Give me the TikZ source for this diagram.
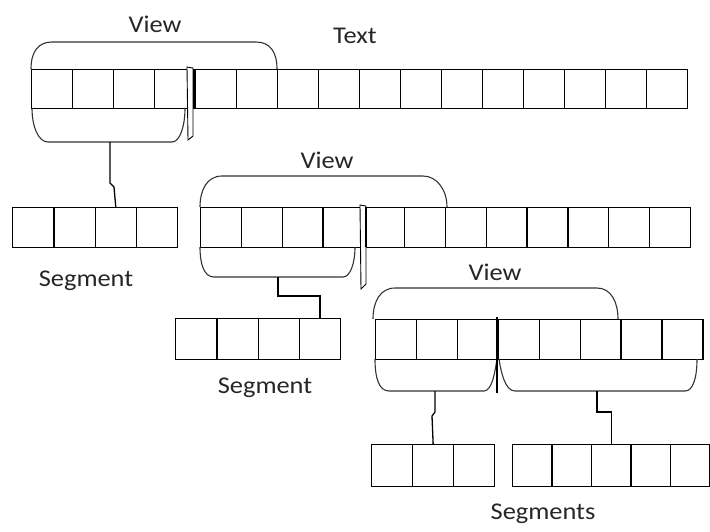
\documentclass[tikz,border=0pt]{standalone}
\usepackage{fontspec}
\setmainfont{Carlito}[FakeStretch=1.1]
\begin{document}
\begin{tikzpicture}[x=1pt,y=-1pt,
  cell/.style={draw=black,line width=1.3pt,inner sep=0pt,anchor=north west,minimum height=40pt},
  brace/.style={draw=black!80,line width=1.1pt},
  conn/.style={draw=black,line width=1.3pt},
  marker/.style={draw=black,line width=0.9pt,fill=white},
  lbl/.style={font=\fontsize{24}{28}\selectfont,text=black!85,anchor=base,inner sep=0pt}]
\useasboundingbox (0,0) rectangle (710,531);
% rows of cells
\foreach \i in {1,...,16} \node[cell,minimum width=41pt,minimum height=39pt] (t\i) at ({31+41*(\i-1)},69) {};
\foreach \i in {1,...,12} \node[cell,minimum width=40.8pt] (r\i) at ({200+40.8*(\i-1)},207) {};
\foreach \i in {1,...,8} \node[cell,minimum width=40.9pt] (q\i) at ({375+40.9*(\i-1)},319) {};
\foreach \i in {1,...,4} \node[cell,minimum width=41.25pt] (sa\i) at ({12+41.25*(\i-1)},207) {};
\foreach \i in {1,...,4} \node[cell,minimum width=41.25pt,minimum height=41pt] (sb\i) at ({175+41.25*(\i-1)},318) {};
\foreach \i in {1,...,3} \node[cell,minimum width=41pt,minimum height=42pt] (sc\i) at ({371+41*(\i-1)},444) {};
\foreach \i in {1,...,5} \node[cell,minimum width=39.4pt,minimum height=42pt] (sd\i) at ({512+39.4*(\i-1)},444) {};
% labels
\node[lbl] (v1) at (155,32) {View};
\node[lbl] (tx) at (355,43) {Text};
\node[lbl] (v2) at (327,168) {View};
\node[lbl] (g1) at (86,286) {Segment};
\node[lbl] (v3) at (495,280) {View};
\node[lbl] (g2) at (265,393) {Segment};
\node[lbl] (g3) at (543,519) {Segments};
% braces row 1
\draw[brace] (31,69) .. controls (31,52) and (38,42) .. (52,42) -- (256,42) .. controls (270,42) and (277,52) .. (277,69);
\draw[brace] (32,108) .. controls (32,126) and (38,142) .. (48,142) -- (172,142) .. controls (180,142) and (185,126) .. (185,108);
% braces row 2
\draw[brace] (200,207) .. controls (200,190) and (207,176) .. (222,176) -- (423,176) .. controls (437,176) and (447,190) .. (447,207);
\draw[brace] (200,247) .. controls (200,264) and (204,277) .. (214,277) -- (343,277) .. controls (350,277) and (355,264) .. (355,247);
% braces row 3
\draw[brace] (373,319) .. controls (373,302) and (380,288) .. (395,288) -- (597,288) .. controls (611,288) and (618,302) .. (618,319);
\draw[brace] (375,359) .. controls (375,378) and (379,391) .. (389,391) -- (484,391) .. controls (492,391) and (495,372) .. (497,359);
\draw[brace] (499,359) .. controls (501,372) and (505,391) .. (515,391) -- (685,391) .. controls (693,391) and (697,378) .. (697,359);
% markers
\draw[marker] (187,67) -- (193,68) -- (193,136) -- (188,140) -- cycle;
\draw[line width=2pt] (194,69) -- (194,108);
\draw[marker] (360,205) -- (366,206) -- (366,284) -- (361,289) -- cycle;
\draw[line width=1.6pt] (366,207) -- (366,247);
\draw[line width=1.4pt] (497,317) -- (497,393);
% connectors
\coordinate (b1) at (110,142);
\coordinate (b2) at (278,277);
\coordinate (b3) at (435,391);
\coordinate (b4) at (597,391);
\draw[conn] (b1) -- ++(0,41) -- ++(4,4) -- (sa3.north);
\draw[conn] (b2) -- ++(0,19) -| (sb4.north);
\draw[conn] (b3) -- ++(0,21) -- ++(-3,4) -- (sc2.north);
\draw[conn] (b4) -- ++(0,21) -| (sd3.north);
\end{tikzpicture}
\end{document}
